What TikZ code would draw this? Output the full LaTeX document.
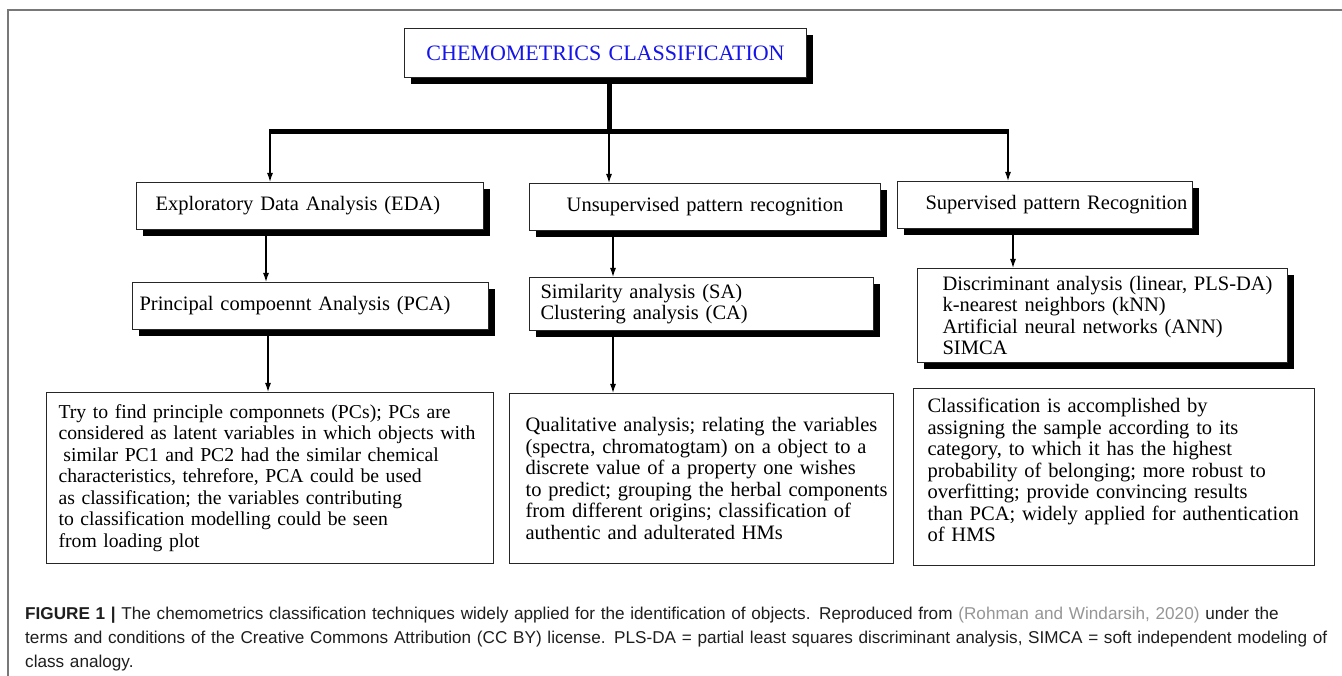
\documentclass[tikz,border=0pt]{standalone}
\usepackage{fontspec}
\setmainfont{Liberation Serif}
\newfontfamily\fuenteleyenda{Liberation Sans}
\usetikzlibrary{arrows.meta,shadows}

\definecolor{azultitulo}{RGB}{20,20,235}
\definecolor{grismarco}{RGB}{120,120,120}
\definecolor{grisenlace}{RGB}{150,150,150}
\definecolor{textoleyenda}{RGB}{30,30,30}

\begin{document}
\begin{tikzpicture}[x=1pt,y=-1pt]
  % Definimos los estilos para las cajas, las flechas y las barras
  \tikzstyle{caja} = [draw=black!85, line width=1.1pt, fill=white, anchor=north west, inner xsep=0pt, inner ysep=0pt, align=left, font=\fontsize{20.5}{21.5}\selectfont];
  \tikzstyle{sombra} = [caja, drop shadow={shadow xshift=6pt, shadow yshift=-6pt, fill=black, opacity=1}];
  \tikzstyle{flecha} = [line width=1.2pt, -{Latex[length=9pt,width=6pt]}];
  \tikzstyle{barra} = [line width=5pt];
  \tikzset{sangria/.style={execute at begin node={\leftskip=#1pt\relax}}}

  % Fondo y marco de la figura
  \useasboundingbox (0,0) rectangle (1342,676);
  \fill[white] (0,0) rectangle (1342,676);
  \draw[grismarco, line width=1.6pt] (8,676) -- (8,10) -- (1342,10);

  % Caja del titulo
  \node [sombra, text width=402pt, minimum height=49pt, align=center, text=azultitulo, font=\fontsize{22}{24}\selectfont] (titulo) at (404,28) {CHEMOMETRICS CLASSIFICATION};

  % Puntos de la barra horizontal
  \coordinate (b1) at (270,132);
  \coordinate (b2) at (609,132);
  \coordinate (b3) at (1008,132);

  % Primera fila de cajas
  \node [sombra, text width=347pt, minimum height=47pt, sangria=19] (eda) at (136,182) {Exploratory Data Analysis (EDA)};
  \node [sombra, text width=351pt, minimum height=47pt, align=center] (nosup) at (529,183) {Unsupervised pattern recognition};
  \node [sombra, text width=295pt, minimum height=47pt, sangria=28] (sup) at (897,181) {Supervised pattern Recognition};

  % Segunda fila de cajas
  \node [sombra, text width=356pt, minimum height=47pt, sangria=7] (pca) at (132,282) {Principal compoennt Analysis (PCA)};
  \node [sombra, text width=344pt, minimum height=53pt, sangria=11] (saca) at (529,277) {Similarity analysis (SA)\\Clustering analysis (CA)};
  \node [sombra, text width=370pt, minimum height=94pt, sangria=25] (metodos) at (917,268) {Discriminant analysis (linear, PLS-DA)\\k-nearest neighbors (kNN)\\Artificial neural networks (ANN)\\SIMCA};

  % Cajas de descripcion (sin sombra)
  \node [caja, text width=447pt, minimum height=171pt, sangria=12, font=\fontsize{19.7}{21.5}\selectfont] (textopca) at (46,392) {Try to find principle componnets (PCs); PCs are\\considered as latent variables in which objects with\\\hspace*{0.25em}similar PC1 and PC2 had the similar chemical\\characteristics, tehrefore, PCA could be used\\as classification; the variables contributing\\to classification modelling could be seen\\from loading plot};
  \node [caja, text width=384pt, minimum height=170pt, sangria=16] (textonosup) at (509,393) {Qualitative analysis; relating the variables\\(spectra, chromatogtam) on a object to a\\discrete value of a property one wishes\\to predict; grouping the herbal components\\from different origins; classification of\\authentic and adulterated HMs};
  \node [caja, text width=401pt, minimum height=177pt, sangria=14] (textosup) at (913,388) {Classification is accomplished by\\assigning the sample according to its\\category, to which it has the highest\\probability of belonging; more robust to\\overfitting; provide convincing results\\than PCA; widely applied for authentication\\of HMS\par\vspace*{14pt}\hrule height 0pt width 0pt};

  % Conectores gruesos desde el titulo
  \draw[barra] (titulo.south -| b2) -- (b2);
  \draw[barra] ([xshift=-0.6pt]b1) -- ([xshift=0.6pt]b3);

  % Flechas
  \draw[flecha] (b1) -- (eda.north -| b1);
  \draw[flecha] (b2) -- (nosup.north -| b2);
  \draw[flecha] (b3) -- (sup.north -| b3);
  \draw[flecha] (eda.south -| 266,0) -- (pca.north -| 266,0);
  \draw[flecha] (nosup.south -| 613,0) -- (saca.north -| 613,0);
  \draw[flecha] (sup.south -| 1013,0) -- (metodos.north -| 1013,0);
  \draw[flecha] (pca.south -| 268,0) -- (textopca.north -| 268,0);
  \draw[flecha] (saca.south -| 613,0) -- (textonosup.north -| 613,0);

  % Leyenda de la figura
  \node [anchor=north west, inner sep=0pt, text width=1400pt, align=left, text=textoleyenda, font=\fuenteleyenda\fontsize{17.15}{24}\selectfont] (leyenda) at (25,607) {\textbf{FIGURE 1 |} The chemometrics classification techniques widely applied for the identification of objects. Reproduced from {\color{grisenlace}(Rohman and Windarsih, 2020)} under the\\terms and conditions of the Creative Commons Attribution (CC BY) license. PLS-DA = partial least squares discriminant analysis, SIMCA = soft independent modeling of\\class analogy.};
\end{tikzpicture}
\end{document}
